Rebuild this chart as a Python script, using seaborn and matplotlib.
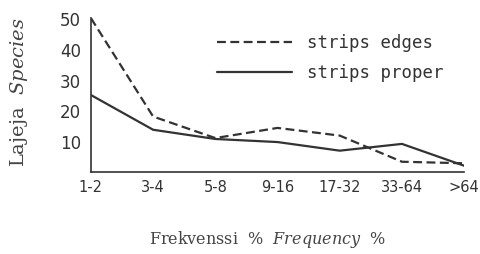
import numpy as np
import pandas as pd
import matplotlib
matplotlib.use("Agg")
import matplotlib.pyplot as plt
import seaborn as sns

categories = ["1-2", "3-4", "5-8", "9-16", "17-32", "33-64", ">64"]
strips_edges = [50, 18, 11, 14.3, 11.8, 3.3, 2.8]
strips_proper = [25, 13.7, 10.7, 9.7, 6.9, 9.1, 2.0]

df = pd.DataFrame({
    "pos": list(range(len(categories))) * 2,
    "species": strips_edges + strips_proper,
    "group": ["strips edges"] * len(categories) + ["strips proper"] * len(categories),
})

sns.set_style("white")
plt.rcParams["font.family"] = ["DejaVu Sans"]
plt.rcParams["mathtext.fontset"] = "dejavuserif"

fig = plt.figure(figsize=(4.81, 2.55), dpi=100)
ax = fig.add_axes([0.189, 0.322, 0.776, 0.603])
sns.lineplot(data=df, x="pos", y="species", style="group",
             dashes={"strips edges": (4, 2), "strips proper": ""},
             color="#333333", linewidth=1.6, ax=ax, legend=False)

ax.set_xlim(0, 6)
ax.set_ylim(0, 50)
ax.set_xticks(range(len(categories)))
ax.set_xticklabels(categories)
ax.set_yticks([10, 20, 30, 40, 50])
ax.set_yticks([5, 15, 25, 35, 45], minor=True)
ax.tick_params(axis="both", direction="in", length=4, width=1, colors="#333333",
               labelcolor="#333333")
ax.tick_params(axis="x", labelsize=10.5, pad=5)
ax.tick_params(axis="y", labelsize=12, pad=7)
ax.tick_params(axis="y", which="minor", direction="in", length=3, width=1, colors="#333333")
for s in ["top", "right"]:
    ax.spines[s].set_visible(False)
for s in ["left", "bottom"]:
    ax.spines[s].set_color("#333333")
    ax.spines[s].set_linewidth(1.2)
ax.set_xlabel("")
ax.set_ylabel("")

# legend drawn by hand in axes coordinates
ax.plot([0.338, 0.539], [0.844, 0.844], transform=ax.transAxes, color="#333333",
        linewidth=1.6, dashes=(4, 2))
ax.plot([0.338, 0.539], [0.65, 0.65], transform=ax.transAxes, color="#333333",
        linewidth=1.6)
ax.text(0.58, 0.844, "strips edges", transform=ax.transAxes, va="center",
        fontsize=12.5, color="#333333", family="DejaVu Sans Mono")
ax.text(0.58, 0.65, "strips proper", transform=ax.transAxes, va="center",
        fontsize=12.5, color="#333333", family="DejaVu Sans Mono")

fig.text(0.04, 0.64, r"Lajeja  $\mathit{Species}$", rotation=90, ha="center",
         va="center", fontsize=14, color="#444444", family="DejaVu Serif")
fig.text(0.557, 0.06, r"Frekvenssi  %  $\mathit{Frequency}$  %", ha="center",
         va="center", fontsize=11.5, color="#444444", family="DejaVu Serif")

fig.savefig("out.png", dpi=100, facecolor="white")
